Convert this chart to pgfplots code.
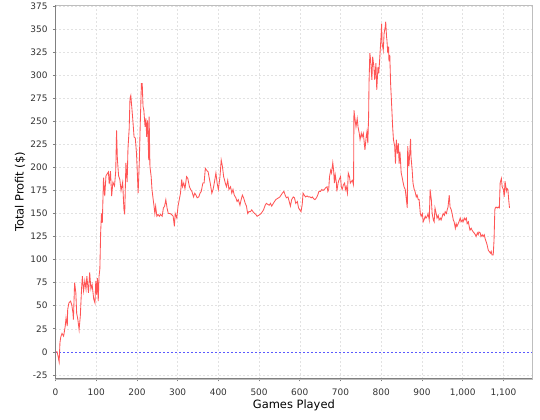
\documentclass[border=0pt]{standalone}
\usepackage{fontspec}
\setmainfont{DejaVu Sans}
\usepackage{pgfplots}
\usepackage{pgfplotstable}
\pgfplotsset{compat=1.18}

\definecolor{series}{RGB}{255,85,85}
\definecolor{zeroline}{RGB}{90,90,255}
\definecolor{gridc}{RGB}{226,226,226}
\definecolor{axisc}{RGB}{128,128,128}
\definecolor{outline}{RGB}{190,190,190}

% running total profit after each game
\pgfplotstableread{
game profit
0 0
4 0
6 -4
9 -11
11 10
13 16
16 20
20 17
24 28
26 37
29 28
30 46
33 53
37 55
40 51
43 42
44 35
47 75
50 64
52 42
55 35
58 24
61 39
64 68
66 82
69 66
72 77
75 68
77 82
81 64
84 86
87 68
90 73
94 57
97 53
99 77
101 62
103 80
105 55
107 82
109 90
111 130
113 150
115 140
118 189
121 169
124 191
127 193
130 195
132 182
135 196
138 169
141 184
145 180
148 196
150 240
152 209
155 191
158 187
161 175
165 184
168 155
170 149
173 205
176 184
178 220
181 242
183 275
185 278
188 262
190 251
193 233
196 232
199 215
201 194
203 172
206 208
208 244
211 291
213 291
215 266
217 262
220 244
222 253
224 233
226 251
229 208
230 255
232 201
235 190
237 176
240 165
242 158
244 150
246 158
249 147
252 149
255 147
258 149
262 147
265 156
268 158
271 165
274 156
277 150
281 150
285 149
289 147
292 136
294 150
298 145
301 158
304 165
307 172
310 187
312 179
315 183
318 177
322 190
325 188
329 179
332 176
335 174
339 168
342 172
345 170
348 167
352 168
355 172
358 174
362 183
365 183
368 199
371 197
375 195
377 190
380 183
384 172
387 176
390 183
394 194
397 183
400 176
404 190
407 208
410 201
413 190
417 183
420 179
423 186
426 176
430 179
433 172
436 176
439 170
443 167
446 163
449 165
453 159
456 165
459 170
462 167
466 161
469 158
472 150
475 152
479 152
482 154
485 152
489 150
492 149
495 147
499 148
502 149
505 150
508 152
511 154
515 159
518 161
521 160
525 159
528 161
531 158
535 161
538 163
541 165
544 166
548 167
551 168
554 170
557 172
561 174
564 170
567 167
571 168
574 163
577 158
580 165
584 168
587 167
590 161
594 163
597 156
600 154
603 152
606 160
608 172
611 170
614 168
618 169
621 168
625 168
628 167
631 168
634 166
637 165
641 167
644 170
647 174
651 174
654 176
657 175
660 176
664 178
667 179
669 174
671 176
673 190
676 197
678 194
681 205
683 197
685 183
687 192
690 183
691 174
694 183
696 186
700 190
702 179
704 176
707 181
710 183
712 176
714 179
717 172
719 194
722 190
724 183
727 185
729 186
732 181
733 262
736 251
738 244
741 253
743 244
746 237
748 230
751 237
753 233
756 237
758 228
760 219
763 233
765 239
767 226
769 255
770 291
772 324
774 316
777 295
779 320
782 309
784 295
787 313
789 284
792 309
794 302
796 316
799 338
801 356
802 335
805 327
807 345
810 353
811 358
813 342
814 338
816 324
818 331
819 315
821 322
823 291
825 273
828 244
830 230
833 223
835 204
837 230
840 215
842 226
844 204
846 217
849 194
851 190
854 183
856 179
859 176
861 168
864 156
865 223
868 201
870 215
872 231
873 212
876 197
878 183
881 176
883 174
886 168
888 170
891 165
893 165
896 150
898 147
901 150
903 141
905 143
908 147
910 145
913 147
915 150
918 143
920 176
923 165
925 150
928 143
930 141
932 156
935 150
937 145
940 148
942 143
945 145
947 143
950 147
952 150
955 148
957 152
960 150
962 154
964 157
967 170
969 157
972 154
974 150
977 143
979 141
982 134
984 139
986 136
989 139
991 141
994 145
996 141
999 143
1001 141
1004 145
1006 143
1009 145
1011 139
1014 141
1016 136
1018 132
1021 134
1023 132
1026 130
1028 129
1031 127
1033 125
1036 129
1038 127
1040 130
1043 129
1045 125
1048 127
1050 125
1053 127
1055 123
1058 119
1060 116
1063 110
1065 109
1068 107
1070 109
1072 105
1075 105
1077 121
1079 154
1080 156
1082 157
1085 156
1087 157
1090 156
1092 183
1095 188
1097 179
1100 176
1102 168
1104 185
1106 179
1107 174
1109 177
1111 176
1113 165
1115 156
}\profit

\begin{document}
\begin{tikzpicture}
\begin{axis}[
    at={(0,0)}, anchor=south west,
    scale only axis,
    width=477bp, height=374bp,
    xmin=0, xmax=1171,
    ymin=-29.3, ymax=376.1,
    xtick={0,100,...,1100},
    ytick={-25,0,...,375},
    scaled ticks=false,
    /pgf/number format/assume math mode=true,
    tick label style={font=\fontsize{9}{10}\selectfont, text=black!80},
    xticklabel style={yshift=-4bp},
    yticklabel style={xshift=-2bp},
    tick align=outside,
    major tick length=2.5bp,
    xtick pos=bottom, ytick pos=left,
    tick style={axisc, line width=0.6bp},
    grid=major,
    major grid style={gridc, dash pattern=on 2bp off 2bp, line width=0.5bp},
    axis line style={outline, line width=0.7bp},
    xlabel={Games Played},
    ylabel={Total Profit (\$)},
    label style={font=\fontsize{11.5}{13}\selectfont},
    xlabel style={at={(axis description cs:0.5,-0.0695)}, anchor=center},
    ylabel style={at={(axis description cs:-0.0744,0.5)}, anchor=center},
]
\addplot[zeroline, dash pattern=on 2bp off 2bp, line width=0.6bp, forget plot]
    coordinates {(0,0) (1171,0)};
\addplot[series, line width=0.85bp, no markers] table[x=game, y=profit] {\profit};
\end{axis}
\draw[axisc, line width=0.8bp] (0,374bp) -- (0,0) -- (477bp,0);
\pgfresetboundingbox
\path (-55.5bp,-41bp) rectangle (484.7bp,379bp);
\end{tikzpicture}
\end{document}
